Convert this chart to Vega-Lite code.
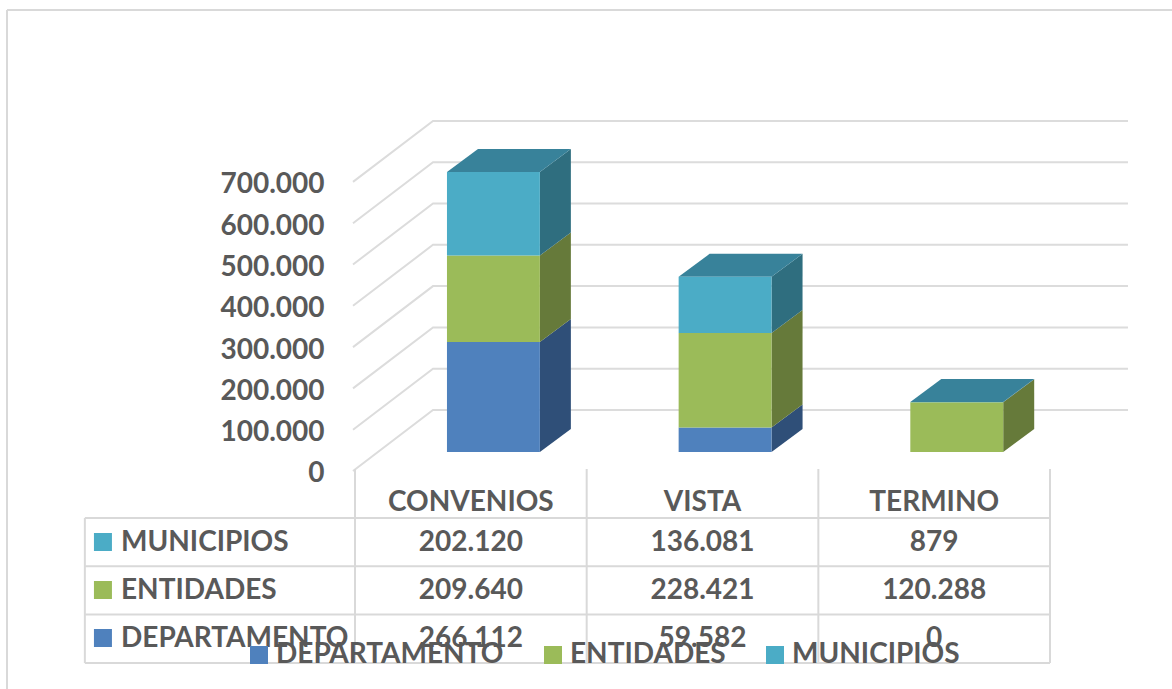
{
"$schema":"https://vega.github.io/schema/vega-lite/v6.json",
"width":1172,"height":689,"padding":0,"autosize":{"type":"none"},
"background":"white",
"config":{"view":{"stroke":null}},
"datasets":{
"rows":[
{"category":"CONVENIOS","series":"DEPARTAMENTO","value":266112},
{"category":"CONVENIOS","series":"ENTIDADES","value":209640},
{"category":"CONVENIOS","series":"MUNICIPIOS","value":202120},
{"category":"VISTA","series":"DEPARTAMENTO","value":59582},
{"category":"VISTA","series":"ENTIDADES","value":228421},
{"category":"VISTA","series":"MUNICIPIOS","value":136081},
{"category":"TERMINO","series":"DEPARTAMENTO","value":0},
{"category":"TERMINO","series":"ENTIDADES","value":120288},
{"category":"TERMINO","series":"MUNICIPIOS","value":879}
],
"ticks":[{"tick":0},{"tick":100000},{"tick":200000},{"tick":300000},{"tick":400000},{"tick":500000},{"tick":600000},{"tick":700000}],
"hlines":[{"line":0},{"line":1},{"line":2},{"line":3}]
},
"resolve":{"scale":{"color":"independent"},"axis":{"y":"independent"}},
"layer":[
{"data":{"values":[{}]},"mark":{"type":"rule","color":"#d9d9d9","strokeWidth":2},
"encoding":{
"x":{"datum":-1.5021,"type":"quantitative","scale":{"domain":[-1.53235,3.52657],"nice":false,"zero":false},"axis":null},
"y":{"datum":1106534,"type":"quantitative","scale":{"domain":[-537529,1130747],"nice":false,"zero":false},"axis":null},
"y2":{"datum":-537529}}},
{"data":{"values":[{}]},"mark":{"type":"rule","color":"#d9d9d9","strokeWidth":2},
"encoding":{
"x":{"datum":-1.5021,"type":"quantitative","scale":{"domain":[-1.53235,3.52657],"nice":false,"zero":false},"axis":null},
"x2":{"datum":3.52657},
"y":{"datum":1106534,"type":"quantitative","scale":{"domain":[-537529,1130747],"nice":false,"zero":false},"axis":null}}},
{"data":{"name":"ticks"},
"transform":[{"calculate":"[0,1,2]","as":"p"},{"flatten":["p"]},
{"calculate":"datum.p==0?-0.00863:(datum.p==1?0.3367:3.3366)","as":"gx"},
{"calculate":"datum.tick+(datum.p>0?138014:-9685)","as":"gy"}],
"mark":{"type":"line","color":"#dcdcdc","strokeWidth":2},
"encoding":{
"x":{"field":"gx","type":"quantitative","scale":{"domain":[-1.53235,3.52657],"nice":false,"zero":false},"axis":null},
"y":{"field":"gy","type":"quantitative","scale":{"domain":[-537529,1130747],"nice":false,"zero":false},
"axis":{"values":[0,100000,200000,300000,400000,500000,600000,700000],"title":null,"domain":false,"ticks":false,"grid":false,"labelPadding":-324,"labelOffset":7,"labelAlign":"right","labelFont":"Lato","labelFontWeight":"bold","labelFontSize":28,"labelColor":"#595959","labelExpr":"replace(format(datum.value,','),/,/g,'.')"}},
"detail":{"field":"tick"},
"order":{"field":"p"}}},
{"data":{"name":"rows"},
"transform":[{"stack":"value","groupby":["category"],"sort":[{"field":"series","order":"ascending"}],"as":["v0","v1"]},
{"calculate":"indexof(['CONVENIOS','VISTA','TERMINO'],datum.category)","as":"i"},
{"calculate":"[0,1]","as":"s"},{"flatten":["s"]},
{"calculate":"datum.i+0.798+datum.s*0.1338","as":"sx"},
{"calculate":"datum.v0+36320+datum.s*55690","as":"ya"},
{"calculate":"datum.v1+36320+datum.s*55690","as":"yb"}],
"mark":{"type":"area"},
"encoding":{
"x":{"field":"sx","type":"quantitative","scale":{"domain":[-1.53235,3.52657],"nice":false,"zero":false},"axis":null},
"y":{"field":"ya","type":"quantitative","scale":{"domain":[-537529,1130747],"nice":false,"zero":false},"axis":null},
"y2":{"field":"yb"},
"color":{"field":"series","type":"nominal","scale":{"domain":["DEPARTAMENTO","ENTIDADES","MUNICIPIOS"],"range":["#2F4F78","#667A3A","#2F6E7F"]},"legend":null},
"detail":{"field":"category"}}},
{"data":{"name":"rows"},
"transform":[{"stack":"value","groupby":["category"],"sort":[{"field":"series","order":"ascending"}],"as":["v0","v1"]},
{"filter":"datum.series==='MUNICIPIOS'"},
{"calculate":"indexof(['CONVENIOS','VISTA','TERMINO'],datum.category)","as":"i"},
{"calculate":"[0,1]","as":"s"},{"flatten":["s"]},
{"calculate":"datum.i+0.397+datum.s*0.1338","as":"xa"},
{"calculate":"datum.i+0.798+datum.s*0.1338","as":"xb"},
{"calculate":"datum.v1+36320+datum.s*55690","as":"yt"}],
"mark":{"type":"area","orient":"horizontal","color":"#38829A"},
"encoding":{
"x":{"field":"xa","type":"quantitative","scale":{"domain":[-1.53235,3.52657],"nice":false,"zero":false},"axis":null},
"x2":{"field":"xb"},
"y":{"field":"yt","type":"quantitative","scale":{"domain":[-537529,1130747],"nice":false,"zero":false},"axis":null},
"detail":{"field":"category"}}},
{"data":{"name":"rows"},
"transform":[{"stack":"value","groupby":["category"],"sort":[{"field":"series","order":"ascending"}],"as":["v0","v1"]},
{"calculate":"indexof(['CONVENIOS','VISTA','TERMINO'],datum.category)","as":"i"},
{"calculate":"datum.i+0.397","as":"xa"},{"calculate":"datum.i+0.798","as":"xb"},
{"calculate":"datum.v0+36320","as":"ya"},{"calculate":"datum.v1+36320","as":"yb"}],
"mark":{"type":"rect"},
"encoding":{
"x":{"field":"xa","type":"quantitative","scale":{"domain":[-1.53235,3.52657],"nice":false,"zero":false},"axis":null},
"x2":{"field":"xb"},
"y":{"field":"ya","type":"quantitative","scale":{"domain":[-537529,1130747],"nice":false,"zero":false},"axis":null},
"y2":{"field":"yb"},
"color":{"field":"series","type":"nominal","scale":{"domain":["DEPARTAMENTO","ENTIDADES","MUNICIPIOS"],"range":["#4F81BD","#9BBB59","#4BACC6"]},
"legend":{"orient":"none","legendX":245,"legendY":641,"direction":"horizontal","columns":3,"title":null,"symbolType":"square","symbolSize":324,"symbolStrokeWidth":0,"labelFont":"Lato","labelFontWeight":"bold","labelFontSize":28,"labelColor":"#595959","labelOffset":3,"columnPadding":35,"padding":0,"labelLimit":400}}}},
{"data":{"name":"hlines"},
"transform":[{"calculate":"(467-(518+datum.line*48.3))*2421.3","as":"ly"}],
"mark":{"type":"rule","color":"#d9d9d9","strokeWidth":2},
"encoding":{
"x":{"datum":-1.166,"type":"quantitative","scale":{"domain":[-1.53235,3.52657],"nice":false,"zero":false},"axis":null},
"x2":{"datum":3},
"y":{"field":"ly","type":"quantitative","scale":{"domain":[-537529,1130747],"nice":false,"zero":false},"axis":null}}},
{"data":{"values":[{"col":0},{"col":1},{"col":2},{"col":3}]},
"mark":{"type":"rule","color":"#d9d9d9","strokeWidth":2},
"encoding":{
"x":{"field":"col","type":"quantitative","scale":{"domain":[-1.53235,3.52657],"nice":false,"zero":false},"axis":null},
"y":{"datum":-4842,"type":"quantitative","scale":{"domain":[-537529,1130747],"nice":false,"zero":false},"axis":null},
"y2":{"datum":-474575}}},
{"data":{"values":[{}]},
"mark":{"type":"rule","color":"#d9d9d9","strokeWidth":2},
"encoding":{
"x":{"datum":-1.166,"type":"quantitative","scale":{"domain":[-1.53235,3.52657],"nice":false,"zero":false},"axis":null},
"y":{"datum":-123486,"type":"quantitative","scale":{"domain":[-537529,1130747],"nice":false,"zero":false},"axis":null},
"y2":{"datum":-474575}}},
{"data":{"name":"rows"},
"transform":[{"filter":"datum.series==='MUNICIPIOS'"},
{"calculate":"indexof(['CONVENIOS','VISTA','TERMINO'],datum.category)+0.5","as":"tx"},
{"calculate":"(467-503)*2421.3","as":"ty"}],
"mark":{"type":"text","font":"Lato","fontWeight":"bold","fontSize":28,"color":"#595959","align":"center","baseline":"middle"},
"encoding":{
"x":{"field":"tx","type":"quantitative","scale":{"domain":[-1.53235,3.52657],"nice":false,"zero":false},"axis":null},
"y":{"field":"ty","type":"quantitative","scale":{"domain":[-537529,1130747],"nice":false,"zero":false},"axis":null},
"text":{"field":"category"}}},
{"data":{"name":"rows"},
"transform":[
{"calculate":"indexof(['CONVENIOS','VISTA','TERMINO'],datum.category)+0.5","as":"tx"},
{"calculate":"(467-(543+indexof(['MUNICIPIOS','ENTIDADES','DEPARTAMENTO'],datum.series)*48))*2421.3","as":"ty"},
{"calculate":"replace(format(datum.value,','),/,/g,'.')","as":"label"}],
"mark":{"type":"text","font":"Lato","fontWeight":"bold","fontSize":28,"color":"#595959","align":"center","baseline":"middle"},
"encoding":{
"x":{"field":"tx","type":"quantitative","scale":{"domain":[-1.53235,3.52657],"nice":false,"zero":false},"axis":null},
"y":{"field":"ty","type":"quantitative","scale":{"domain":[-537529,1130747],"nice":false,"zero":false},"axis":null},
"text":{"field":"label"}}},
{"data":{"name":"rows"},
"transform":[{"filter":"datum.category==='CONVENIOS'"},
{"calculate":"(467-(543+indexof(['MUNICIPIOS','ENTIDADES','DEPARTAMENTO'],datum.series)*48))*2421.3","as":"ty"}],
"mark":{"type":"text","font":"Lato","fontWeight":"bold","fontSize":28,"color":"#595959","align":"left","baseline":"middle"},
"encoding":{
"x":{"datum":-1.01,"type":"quantitative","scale":{"domain":[-1.53235,3.52657],"nice":false,"zero":false},"axis":null},
"y":{"field":"ty","type":"quantitative","scale":{"domain":[-537529,1130747],"nice":false,"zero":false},"axis":null},
"text":{"field":"series"}}},
{"data":{"name":"rows"},
"transform":[{"filter":"datum.category==='CONVENIOS'"},
{"calculate":"(467-(542+indexof(['MUNICIPIOS','ENTIDADES','DEPARTAMENTO'],datum.series)*48))*2421.3","as":"ty"}],
"mark":{"type":"point","shape":"square","filled":true,"size":324,"opacity":1},
"encoding":{
"x":{"datum":-1.088,"type":"quantitative","scale":{"domain":[-1.53235,3.52657],"nice":false,"zero":false},"axis":null},
"y":{"field":"ty","type":"quantitative","scale":{"domain":[-537529,1130747],"nice":false,"zero":false},"axis":null},
"color":{"field":"series","type":"nominal","scale":{"domain":["DEPARTAMENTO","ENTIDADES","MUNICIPIOS"],"range":["#4F81BD","#9BBB59","#4BACC6"]},"legend":null}}}
]
}
